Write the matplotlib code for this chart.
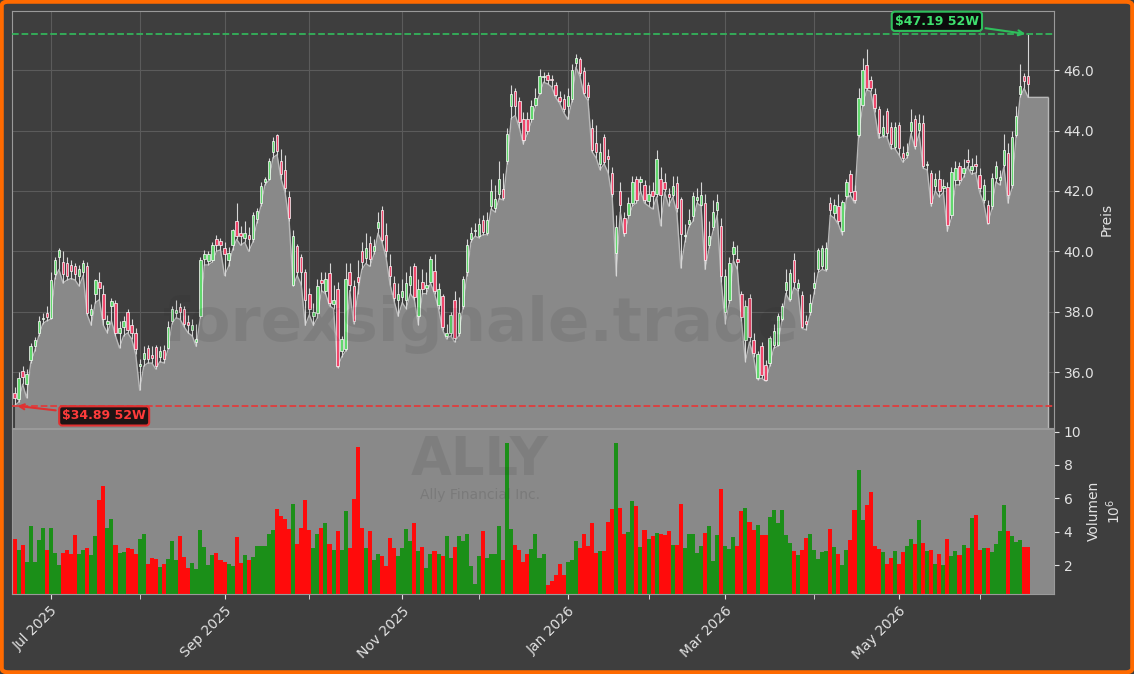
import matplotlib
matplotlib.use("Agg")
import matplotlib.pyplot as plt
from matplotlib.patches import FancyBboxPatch
import matplotlib.ticker as mticker
import numpy as np
import pandas as pd

# trading days (NYSE holidays removed)
holidays = ["2025-06-19", "2025-07-04", "2025-09-01", "2025-11-27", "2025-12-25",
            "2026-01-01", "2026-01-19", "2026-02-16", "2026-04-03", "2026-05-25"]
dates = pd.bdate_range("2025-06-17", "2026-06-17", freq="C", holidays=holidays)

opens = [
    35.30, 35.10, 36.05, 35.60, 36.40, 36.85, 37.30, 37.76, 37.95, 37.80,
    39.26, 39.80, 39.65, 39.60, 39.55, 39.50, 39.20, 39.30, 39.50, 37.90,
    38.60, 39.00, 38.60, 37.60, 38.20, 38.30, 37.30, 37.50, 38.00, 37.55,
    37.30, 36.20, 36.43, 36.80, 36.58, 36.82, 36.50, 36.74, 36.80, 37.70,
    37.95, 38.15, 38.10, 37.65, 37.40, 37.00, 37.85, 39.75, 39.67, 39.70,
    40.40, 40.35, 40.10, 39.70, 40.20, 41.00, 40.60, 40.45, 40.55, 40.40,
    41.07, 41.60, 42.30, 42.40, 43.30, 43.87, 43.00, 42.70, 41.80, 38.90,
    40.17, 39.80, 39.30, 38.60, 37.85, 37.97, 39.05, 38.70, 39.28, 38.25,
    38.75, 36.70, 36.75, 39.30, 38.85, 39.15, 40.00, 39.78, 40.27, 40.00,
    40.77, 41.36, 40.55, 39.50, 38.95, 38.40, 38.50, 38.40, 38.90, 39.50,
    37.87, 38.97, 38.80, 39.00, 39.35, 38.22, 38.53, 37.20, 37.30, 38.38,
    37.30, 38.20, 39.30, 40.40, 40.68, 40.50, 41.05, 40.60, 41.50, 41.45,
    41.90, 42.05, 43.00, 44.80, 45.30, 44.97, 44.40, 44.37, 44.37, 44.86,
    45.25, 45.78, 45.83, 45.70, 45.50, 45.12, 45.05, 44.83, 45.03, 46.23,
    46.38, 45.97, 45.50, 44.10, 43.60, 42.90, 43.80, 43.15, 42.60, 39.95,
    42.00, 41.10, 41.20, 41.60, 42.38, 42.30, 42.20, 41.66, 41.99, 41.90,
    42.40, 42.30, 41.90, 41.86, 42.25, 41.74, 40.50, 40.92, 41.16, 41.70,
    41.55, 41.60, 40.20, 40.80, 41.38, 40.83, 38.00, 38.40, 39.92, 39.75,
    38.58, 37.07, 38.47, 37.07, 35.80, 36.85, 36.24, 36.30, 36.90, 36.90,
    37.75, 38.73, 38.42, 39.73, 38.80, 38.56, 37.70, 38.00, 38.80, 39.40,
    39.50, 39.40, 41.60, 41.27, 41.50, 40.66, 41.82, 42.57, 41.99, 43.87,
    44.86, 46.16, 45.66, 45.20, 44.70, 43.87, 44.64, 44.12, 43.46, 44.20,
    43.26, 43.20, 44.00, 44.37, 44.03, 44.26, 42.85, 42.60, 42.16, 42.40,
    42.10, 42.13, 41.22, 42.37, 42.82, 42.60, 43.04, 42.70, 42.88, 42.54,
    41.71, 41.55, 41.49, 42.43, 42.35, 42.87, 43.26, 42.20, 43.87, 45.20,
    45.80, 45.80,
]
closes = [
    35.15, 35.80, 35.85, 35.95, 36.85, 37.05, 37.70, 37.80, 37.82, 39.05,
    39.72, 40.05, 39.25, 39.20, 39.35, 39.25, 39.40, 39.60, 37.95, 38.10,
    39.05, 38.80, 37.75, 37.70, 38.35, 37.30, 37.45, 37.70, 37.40, 37.30,
    36.75, 36.28, 36.65, 36.45, 36.48, 36.20, 36.70, 36.43, 37.50, 38.10,
    38.05, 38.00, 37.60, 37.55, 37.55, 37.10, 39.70, 39.90, 39.90, 40.20,
    40.20, 40.20, 39.90, 39.95, 40.70, 40.50, 40.52, 40.60, 40.40, 41.20,
    41.33, 42.18, 42.38, 43.00, 43.65, 43.32, 42.55, 42.10, 41.10, 40.50,
    39.30, 39.30, 38.40, 38.10, 38.00, 38.85, 38.95, 39.10, 38.30, 38.40,
    36.20, 37.10, 39.10, 38.90, 37.70, 38.97, 39.64, 40.10, 39.74, 40.19,
    40.96, 40.39, 40.00, 39.17, 38.45, 38.60, 38.70, 38.95, 39.20, 38.50,
    38.75, 38.75, 38.90, 39.74, 38.70, 38.75, 37.50, 37.30, 37.90, 37.13,
    37.95, 39.10, 40.20, 40.60, 40.72, 40.90, 40.63, 41.05, 42.00, 41.75,
    42.40, 41.77, 43.90, 45.20, 44.80, 44.27, 43.70, 44.00, 44.80, 45.08,
    45.80, 45.82, 45.67, 45.66, 45.17, 44.97, 44.70, 45.16, 46.00, 46.40,
    45.90, 45.25, 45.12, 43.37, 43.30, 43.30, 42.96, 43.05, 41.90, 40.80,
    41.55, 40.60, 41.60, 42.30, 41.71, 42.38, 41.70, 41.90, 41.82, 43.06,
    41.88, 42.05, 41.80, 42.16, 41.44, 40.59, 40.55, 41.05, 41.85, 41.80,
    41.88, 39.72, 40.50, 41.30, 41.65, 39.17, 39.17, 39.60, 40.14, 39.64,
    37.82, 38.20, 37.18, 36.63, 36.60, 35.90, 35.74, 37.12, 37.35, 37.86,
    38.20, 38.97, 39.28, 38.97, 38.95, 37.50, 37.60, 38.30, 38.95, 40.05,
    40.10, 40.10, 41.38, 41.55, 41.00, 41.65, 42.29, 41.97, 41.71, 45.08,
    46.02, 45.42, 45.42, 44.75, 43.93, 44.12, 43.93, 43.54, 44.12, 43.43,
    43.10, 43.30, 44.30, 43.48, 44.26, 42.82, 42.90, 41.60, 42.38, 42.00,
    42.15, 40.88, 42.62, 42.76, 42.37, 42.76, 42.95, 42.84, 42.84, 42.10,
    42.21, 40.94, 42.43, 42.82, 42.45, 43.37, 41.88, 43.80, 44.48, 45.47,
    45.64, 45.53,
]
highs = [
    35.50, 36.00, 36.20, 36.10, 36.95, 37.15, 37.85, 37.95, 38.20, 39.30,
    39.80, 40.10, 40.00, 39.80, 39.70, 39.60, 39.55, 39.70, 39.65, 38.25,
    39.10, 39.30, 38.90, 37.90, 38.45, 38.40, 37.70, 37.85, 38.10, 37.75,
    37.45, 36.45, 36.85, 36.90, 36.85, 36.90, 36.85, 36.90, 37.70, 38.20,
    38.40, 38.30, 38.20, 37.90, 37.75, 37.60, 39.80, 40.05, 40.00, 40.30,
    40.55, 40.45, 40.30, 40.15, 40.75, 41.60, 40.85, 41.00, 40.80, 41.30,
    41.45, 42.30, 42.45, 43.10, 43.80, 43.90, 43.40, 43.20, 42.00, 40.70,
    40.25, 39.90, 39.40, 38.80, 38.30, 39.10, 39.30, 39.30, 39.60, 38.90,
    39.00, 37.20, 39.60, 39.60, 39.05, 39.70, 40.30, 40.60, 40.50, 40.40,
    41.30, 41.50, 40.95, 39.90, 39.20, 38.95, 39.10, 39.30, 39.50, 39.60,
    39.10, 39.40, 39.30, 39.85, 39.90, 38.95, 38.60, 37.60, 38.00, 38.70,
    38.50, 39.20, 40.40, 40.80, 40.95, 41.10, 41.20, 41.30, 42.40, 42.20,
    43.00, 42.60, 44.10, 45.50, 45.40, 45.10, 44.60, 44.60, 45.00, 45.40,
    46.05, 45.95, 45.95, 45.85, 45.60, 45.30, 45.20, 45.40, 46.20, 46.55,
    46.45, 46.10, 45.60, 44.40, 44.20, 43.60, 43.90, 43.40, 42.80, 41.20,
    42.30, 41.30, 41.80, 42.50, 42.50, 42.50, 42.35, 42.20, 42.30, 43.37,
    42.80, 42.60, 42.10, 42.50, 42.50, 41.80, 40.90, 41.40, 41.95, 42.10,
    42.30, 41.90, 41.00, 41.70, 41.90, 41.10, 39.40, 39.80, 40.35, 40.20,
    38.70, 38.40, 38.60, 37.30, 36.70, 37.00, 36.40, 37.20, 37.60, 37.95,
    38.30, 39.40, 39.40, 39.95, 39.10, 38.70, 37.90, 38.60, 39.30, 40.10,
    40.20, 40.30, 41.80, 41.75, 41.90, 41.70, 42.40, 42.70, 42.20, 45.40,
    46.40, 46.70, 45.80, 45.40, 44.80, 44.50, 44.75, 44.30, 44.30, 44.30,
    43.50, 43.60, 44.70, 44.50, 44.55, 44.50, 43.00, 42.70, 42.60, 42.70,
    42.40, 42.30, 42.80, 43.00, 42.95, 43.05, 43.40, 43.10, 43.20, 42.75,
    42.40, 41.70, 42.60, 43.00, 42.70, 43.90, 43.60, 44.00, 44.80, 46.20,
    45.90, 47.19,
]
lows = [
    34.89, 35.00, 35.60, 35.15, 36.30, 36.70, 37.20, 37.60, 37.70, 37.75,
    39.10, 39.40, 38.95, 39.05, 39.10, 39.05, 38.85, 39.20, 37.90, 37.55,
    38.30, 38.40, 37.55, 37.30, 37.70, 37.20, 36.80, 37.20, 37.30, 37.10,
    36.60, 35.40, 36.20, 36.30, 36.30, 36.10, 36.35, 36.30, 36.75, 37.60,
    37.80, 37.75, 37.50, 37.30, 37.20, 36.85, 37.80, 39.55, 39.55, 39.65,
    40.00, 40.05, 39.20, 39.50, 40.05, 40.40, 40.20, 40.30, 40.00, 40.30,
    40.95, 41.50, 42.20, 42.35, 43.10, 43.20, 42.40, 41.95, 41.00, 38.85,
    39.20, 38.90, 37.55, 37.90, 37.55, 37.80, 38.70, 38.60, 38.20, 38.10,
    36.15, 36.50, 36.70, 38.70, 37.60, 38.60, 39.40, 39.60, 39.50, 39.90,
    40.60, 40.30, 39.80, 38.90, 38.35, 37.85, 38.30, 38.10, 38.60, 38.40,
    37.57, 38.60, 38.60, 38.95, 38.60, 38.10, 37.40, 37.10, 37.20, 37.00,
    37.20, 38.10, 39.20, 40.30, 40.50, 40.45, 40.55, 40.55, 41.40, 41.30,
    41.75, 41.70, 42.90, 44.40, 44.50, 44.10, 43.55, 43.90, 44.30, 44.80,
    45.20, 45.60, 45.55, 45.45, 45.10, 44.90, 44.60, 44.37, 44.95, 46.10,
    45.80, 45.20, 45.00, 43.30, 43.10, 42.70, 42.90, 42.60, 41.80, 39.20,
    41.30, 40.50, 41.10, 41.50, 41.60, 42.00, 41.60, 41.50, 41.40, 41.80,
    40.85, 41.95, 41.50, 41.80, 41.30, 39.45, 40.30, 40.80, 41.00, 41.60,
    41.50, 39.40, 40.10, 40.70, 41.20, 39.00, 37.60, 38.30, 39.70, 39.40,
    37.70, 36.35, 37.00, 36.50, 35.75, 35.80, 35.70, 36.20, 36.80, 36.85,
    37.70, 38.60, 38.35, 38.80, 38.70, 37.45, 37.40, 37.90, 38.60, 39.30,
    39.40, 39.35, 41.20, 41.10, 40.90, 40.55, 41.75, 41.85, 41.60, 43.80,
    44.80, 45.35, 45.30, 44.60, 43.75, 43.80, 43.80, 43.40, 43.40, 43.20,
    42.95, 43.10, 43.90, 43.40, 43.90, 42.75, 42.70, 41.50, 42.00, 41.80,
    41.95, 40.66, 41.10, 42.20, 42.20, 42.45, 42.80, 42.55, 42.60, 41.95,
    41.60, 40.90, 41.40, 42.30, 42.20, 42.80, 41.60, 42.10, 43.80, 45.10,
    45.40, 45.10,
]
# volume in millions
volume = [
    3.55, 2.90, 3.20, 2.16, 4.33, 2.16, 3.50, 4.20, 2.90, 4.20,
    2.70, 2.00, 2.75, 2.93, 2.65, 3.83, 2.65, 2.90, 3.00, 2.60,
    3.73, 5.88, 6.72, 4.23, 4.75, 3.20, 2.70, 2.78, 3.00, 2.96,
    2.65, 3.55, 3.85, 2.06, 2.40, 2.36, 1.90, 2.06, 2.36, 3.43,
    2.30, 3.73, 2.50, 1.84, 2.14, 1.78, 4.09, 3.10, 2.00, 2.60,
    2.75, 2.30, 2.16, 2.04, 1.94, 3.70, 2.14, 2.60, 2.30, 2.50,
    3.13, 3.13, 3.13, 3.85, 4.09, 5.38, 4.93, 4.79, 4.15, 5.68,
    3.29, 4.25, 5.88, 4.09, 3.03, 3.85, 4.25, 4.55, 3.29, 2.90,
    4.03, 2.90, 5.22, 3.03, 5.98, 9.06, 4.23, 3.03, 4.03, 2.30,
    2.66, 2.54, 1.94, 3.63, 3.03, 2.54, 3.03, 4.15, 3.43, 4.53,
    2.84, 3.09, 1.84, 2.66, 2.86, 2.66, 2.56, 3.73, 2.44, 3.09,
    3.73, 3.43, 3.85, 1.94, 0.87, 2.54, 4.03, 2.44, 2.66, 2.66,
    4.33, 2.30, 9.30, 4.19, 3.19, 2.90, 2.20, 2.66, 2.96, 3.85,
    2.40, 2.66, 0.80, 1.04, 1.40, 2.06, 1.40, 2.16, 2.30, 3.43,
    3.03, 3.85, 3.15, 4.53, 2.74, 2.84, 2.84, 4.59, 5.35, 9.30,
    5.45, 3.85, 3.99, 5.82, 5.52, 3.09, 4.09, 3.55, 3.73, 3.95,
    3.89, 3.79, 4.03, 3.19, 3.23, 5.64, 3.05, 3.85, 3.85, 2.70,
    3.13, 3.93, 4.33, 2.24, 3.83, 6.54, 3.13, 2.94, 3.69, 3.13,
    5.24, 5.44, 4.59, 4.09, 4.39, 3.79, 3.83, 4.89, 5.28, 4.53,
    5.32, 3.83, 3.35, 2.84, 2.60, 2.90, 3.65, 3.85, 2.90, 2.36,
    2.80, 2.84, 4.15, 3.09, 2.66, 2.00, 2.90, 3.49, 5.28, 7.67,
    4.69, 5.58, 6.38, 3.13, 2.94, 2.76, 2.06, 2.40, 2.84, 2.06,
    2.76, 3.13, 3.59, 3.29, 4.69, 3.35, 2.86, 2.90, 2.06, 2.66,
    2.00, 3.55, 2.54, 2.84, 2.60, 3.19, 3.00, 4.85, 5.02, 2.90,
    3.00, 3.00, 2.80, 3.29, 4.03, 5.58, 4.03, 3.73, 3.39, 3.49,
    3.09, 3.09,
]

ticker_name = "ALLY"
company = "Ally Financial Inc."

BG = "#3e3e3e"
GRAY = "#898989"
GREEN_C = "#62d86e"
RED_C = "#f0476c"
GREEN_V = "#1b8f18"
RED_V = "#ff0b0b"
TXT = "#e2e2e2"
SPINE = "#9a9a9a"

o, h, l, c = map(np.array, (opens, highs, lows, closes))
x = np.arange(len(dates))
up = c >= o
hi52, lo52 = h.max(), l.min()
ybot, ytop = 34.15, 47.95
xend = len(x) + 3.9

fig = plt.figure(figsize=(11.34, 6.74), dpi=100, facecolor=BG)
ax = fig.add_axes([0.01085, 0.365, 0.9186, 0.6182])
axv = fig.add_axes([0.01085, 0.1187, 0.9186, 0.2455], sharex=ax)

# ---- price panel ----
ax.set_facecolor(BG)
xa = np.append(x, xend)
la = np.append(l, l[-1])
ax.fill_between(xa, la, ybot, color=GRAY, zorder=2, lw=0)
ax.plot(xa, la, color="#b8b8b8", lw=1.0, zorder=2.5)
ax.vlines(xend, ybot, l[-1], color="#b8b8b8", lw=1.0, zorder=2.5)

ax.vlines(x, l, h, color="#d6d6d6", lw=0.8, zorder=3)
body = np.maximum(np.abs(c - o), 0.04)
ax.bar(x, body, bottom=np.minimum(o, c), width=0.6,
       color=np.where(up, GREEN_C, RED_C), edgecolor="white", linewidth=0.5, zorder=4)

ax.axhline(hi52, color="#33b35a", ls="--", lw=1.3, zorder=3)
ax.axhline(lo52, color="#e03c3c", ls="--", lw=1.3, zorder=3)

ax.annotate("$%.2f 52W" % hi52, xy=(x[-1], hi52), xytext=(228.4, 47.62),
            ha="center", va="center", fontsize=9, fontweight="bold", color="#3ee06e",
            bbox=dict(boxstyle="round,pad=0.25", fc="#0c0c0c", ec="#2fbf5c", lw=1.5),
            arrowprops=dict(arrowstyle="->", color="#2fbf5c", lw=1.5), zorder=6)
ax.annotate("$%.2f 52W" % lo52, xy=(x[0], lo52), xytext=(22.2, 34.55),
            ha="center", va="center", fontsize=9, fontweight="bold", color="#ff3b3b",
            bbox=dict(boxstyle="round,pad=0.25", fc="#1e1414", ec="#e03030", lw=1.5),
            arrowprops=dict(arrowstyle="->", color="#e03030", lw=1.5), zorder=6)

ax.set_xlim(-0.55, 257.4)
ax.set_ylim(ybot, ytop)
ax.yaxis.tick_right()
ax.yaxis.set_label_position("right")
ax.yaxis.set_major_locator(mticker.MultipleLocator(2))
ax.yaxis.set_major_formatter(mticker.FormatStrFormatter("%.1f"))
ax.set_ylabel("Preis", color=TXT, fontsize=10)
ax.tick_params(axis="y", colors=TXT, labelsize=10)

# month ticks: labelled every second month
month_start = [i for i in range(1, len(dates)) if dates[i].month != dates[i - 1].month]
major = [i for i in month_start if dates[i].month % 2 == 1]
minor = [i for i in month_start if dates[i].month % 2 == 0]
ax.set_xticks(major)
ax.set_xticks(minor, minor=True)
ax.grid(True, which="both", color="#5b5b5b", lw=0.8, zorder=1)
ax.set_axisbelow(True)

# ---- volume panel ----
axv.set_facecolor(GRAY)
axv.bar(x, volume, width=1.0, color=np.where(up, GREEN_V, RED_V), lw=0, zorder=2)
axv.set_ylim(0.27, 10.18)
axv.set_yticks([2, 4, 6, 8, 10])
axv.yaxis.tick_right()
axv.yaxis.set_label_position("right")
axv.set_ylabel("Volumen\n$10^6$", color=TXT, fontsize=10)
axv.set_xticks(major)
axv.set_xticks(minor, minor=True)
axv.set_xticklabels([dates[i].strftime("%b %Y") for i in major], rotation=45,
                    ha="right", rotation_mode="anchor")
axv.tick_params(axis="both", which="both", colors=TXT, labelsize=10)
axv.tick_params(axis="x", which="minor", length=3.5)
ax.tick_params(axis="x", which="both", bottom=False, labelbottom=False)

for a in (ax, axv):
    for s in a.spines.values():
        s.set_color(SPINE)

# watermarks
fig.text(0.4242, 0.518, "forexsignale.trade", fontsize=44, fontweight="bold",
         color="#262626", alpha=0.1, ha="center", va="center")
fig.text(0.4233, 0.318, ticker_name, fontsize=38, fontweight="bold",
         color="#262626", alpha=0.1, ha="center", va="center")
fig.text(0.4233, 0.266, company, fontsize=10, color="#262626", alpha=0.15,
         ha="center", va="center")

fig.patches.append(FancyBboxPatch((0.0015, 0.0025), 0.997, 0.995,
                                  boxstyle="round,pad=0,rounding_size=0.006",
                                  transform=fig.transFigure, fc="none",
                                  ec="#ff6a00", lw=3))

fig.savefig("out.png", dpi=100, facecolor=BG)
